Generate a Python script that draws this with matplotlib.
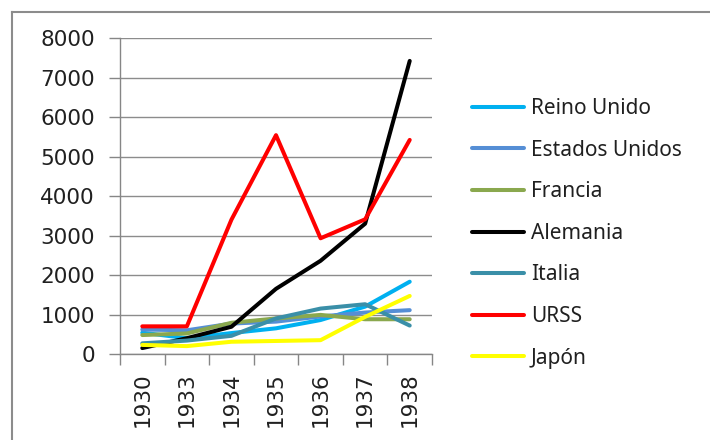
import matplotlib
matplotlib.use("Agg")
import matplotlib.pyplot as plt
from matplotlib.lines import Line2D

# years on the category axis
years = ['1930', '1933', '1934', '1935', '1936', '1937', '1938']

reino_unido = [540, 400, 530, 650, 860, 1200, 1830]
estados_unidos = [620, 600, 770, 820, 950, 1050, 1110]
francia = [480, 520, 790, 900, 990, 880, 880]
alemania = [150, 400, 690, 1650, 2360, 3300, 7420]
italia = [270, 340, 460, 900, 1150, 1260, 720]
urss = [700, 700, 3400, 5540, 2930, 3410, 5420]
japon = [230, 200, 310, 330, 350, 940, 1470]

series = ['Reino Unido', 'Estados Unidos', 'Francia', 'Alemania', 'Italia', 'URSS', 'Japón']
colors = ['#00B0F0', '#558ED5', '#8AA84E', '#000000', '#3A8FA8', '#FF0000', '#FFFF00']
values = [reino_unido, estados_unidos, francia, alemania, italia, urss, japon]

fig = plt.figure(figsize=(7.1, 4.4), dpi=100)
ax = fig.add_axes([120 / 710, 1 - 354 / 440, 312 / 710, 316 / 440])

x = list(range(len(years)))
for name, col, vals in zip(series, colors, values):
    ax.plot(x, vals, color=col, lw=2.9, label=name,
            solid_joinstyle='round', solid_capstyle='round')

ax.set_ylim(0, 8000)
ax.set_yticks(range(0, 8001, 1000))
ax.set_xlim(-0.5, len(years) - 0.5)
ax.set_xticks(x)
ax.set_xticklabels(years, rotation=90)
ax.set_xticks([i - 0.5 for i in range(len(years) + 1)], minor=True)
ax.tick_params(axis='x', which='major', length=0, pad=13)
ax.tick_params(axis='x', which='minor', length=8, color='#868686', width=1)
ax.tick_params(axis='y', length=8, color='#868686', width=1, pad=10)
ax.tick_params(labelsize=15.5, labelcolor='#202020')
ax.yaxis.grid(True, color='#8C8C8C', lw=1)
ax.set_axisbelow(True)
for s in ['top', 'right']:
    ax.spines[s].set_visible(False)
for s in ['left', 'bottom']:
    ax.spines[s].set_color('#868686')
    ax.spines[s].set_linewidth(1)

leg = ax.legend(loc='upper left', bbox_to_anchor=(472 / 710, 1 - 98 / 440),
                bbox_transform=fig.transFigure, frameon=False,
                prop={'family': 'Noto Sans', 'size': 15}, handlelength=2.5,
                handletextpad=0.33, labelspacing=0.99, borderaxespad=0,
                borderpad=0)
for t in leg.get_texts():
    t.set_color('#202020')

# outer chart border (only top and left visible in the crop)
fig.add_artist(Line2D([12 / 710, 1], [1 - 12 / 440, 1 - 12 / 440],
                      transform=fig.transFigure, color='#8C8C8C', lw=1.5))
fig.add_artist(Line2D([12 / 710, 12 / 710], [0, 1 - 12 / 440],
                      transform=fig.transFigure, color='#8C8C8C', lw=1.5))

fig.savefig('out.png', dpi=100, facecolor='white')
